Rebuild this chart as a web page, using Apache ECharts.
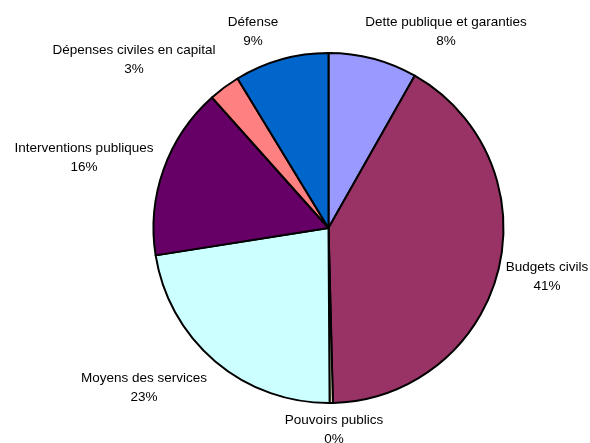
<!DOCTYPE html>
<html>
<head>
<meta charset="utf-8">
<script src="https://cdn.jsdelivr.net/npm/echarts@6/dist/echarts.min.js"></script>
<style>
  html, body { margin: 0; padding: 0; background: #ffffff; }
  #chart { width: 590px; height: 443px; }
</style>
</head>
<body>
<div id="chart"></div>
<script>
// Répartition des dépenses (en % du total)
const categories = [
  'Dette publique et garanties',
  'Budgets civils',
  'Pouvoirs publics',
  'Moyens des services',
  'Interventions publiques',
  'Dépenses civiles en capital',
  'Défense'
];
const values = [8.2, 41.4, 0.3, 22.6, 15.9, 2.9, 8.7];
const colors = ['#9999ff', '#993366', '#ffffcc', '#ccffff', '#660066', '#ff8080', '#0066cc'];

// Centre of each two-line label block, in pixels
const labelCenters = [
  [446, 32], [547, 277], [334, 430], [144, 388], [84, 158], [134, 60], [253, 32]
];

const chart = echarts.init(document.getElementById('chart'), null, { renderer: 'canvas' });

chart.setOption({
  animation: false,
  backgroundColor: '#ffffff',
  series: [{
    type: 'pie',
    center: [328.5, 228],
    radius: [0, 175],
    startAngle: 90,
    clockwise: true,
    percentPrecision: 0,
    minAngle: 0,
    avoidLabelOverlap: false,
    data: categories.map((name, i) => ({
      name: name,
      value: values[i],
      itemStyle: { color: colors[i] }
    })),
    itemStyle: { borderColor: '#000000', borderWidth: 2 },
    label: {
      show: true,
      position: 'outside',
      formatter: '{b}\n{d}%',
      fontFamily: 'Liberation Sans, Arial, sans-serif',
      fontSize: 13.5,
      lineHeight: 19,
      color: '#000000',
      align: 'center'
    },
    labelLine: { show: false },
    labelLayout: function (params) {
      const c = labelCenters[params.dataIndex];
      return { x: c[0], y: c[1], align: 'center', verticalAlign: 'middle' };
    },
    emphasis: { disabled: true }
  }]
});
</script>
</body>
</html>
